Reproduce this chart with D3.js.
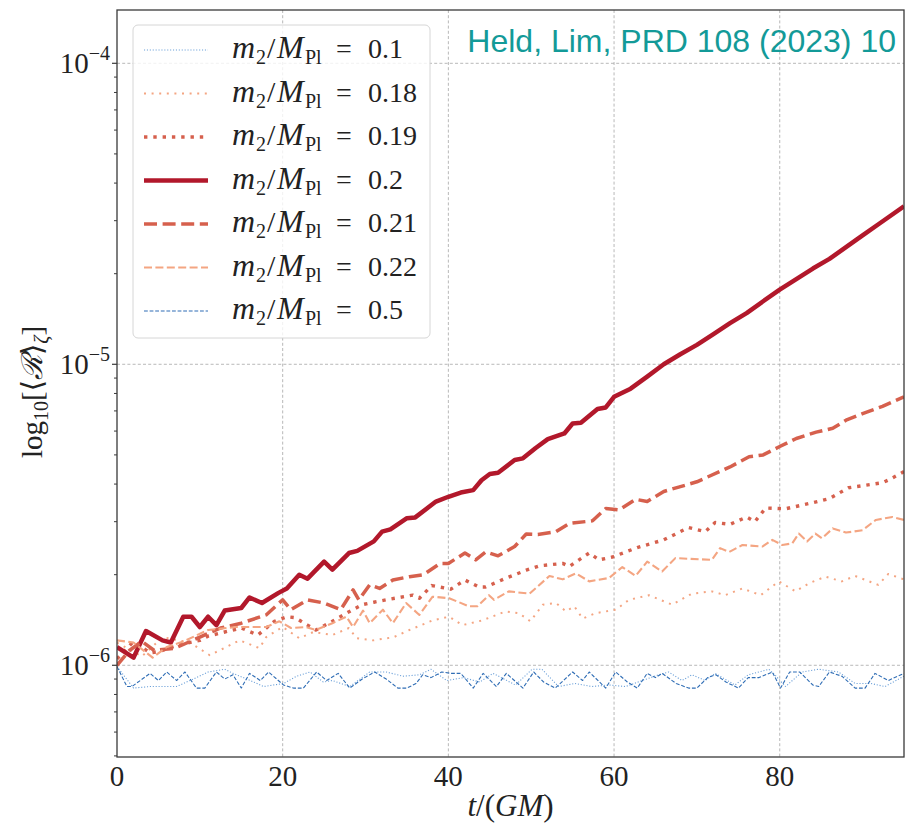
<!DOCTYPE html>
<html>
<head>
<meta charset="utf-8">
<script src="https://cdn.jsdelivr.net/npm/d3@7"></script>
<style>
  body { margin: 0; background: #fff; }
  svg { display: block; }
</style>
</head>
<body>
<div id="chart"></div>
<script>
// values are <R>_zeta in units of 1e-6
const t010 = [0, 2, 4, 7.2, 9.2, 11, 13, 14, 16.1, 17.7, 20.1, 21.7, 23.3, 24.9, 26, 28.1, 30.5, 32.5, 34.5, 36.5, 37.9, 39.8, 41.8, 43.8, 45.4, 47.4, 48.1, 50.1, 51.3, 53.3, 55.3, 57.3, 59.4, 61.4, 63.4, 65.4, 66.6, 68.2, 69.4, 71, 72.2, 74.6, 76.2, 78.7, 79.4, 80.7, 82.7, 84.7, 87.1, 89.1, 91, 92.7, 95];
const v010 = [0.99, 0.84, 0.85, 0.85, 0.90, 0.95, 0.97, 0.94, 0.89, 0.85, 0.87, 0.92, 0.95, 0.88, 0.89, 0.85, 0.95, 0.95, 0.92, 0.93, 0.97, 0.89, 0.91, 0.88, 0.94, 0.88, 0.86, 0.97, 0.97, 0.85, 0.87, 0.85, 0.86, 0.85, 0.89, 0.93, 0.95, 0.89, 0.93, 0.89, 0.94, 0.86, 0.93, 0.97, 0.93, 0.85, 0.95, 0.97, 0.95, 0.87, 0.87, 0.85, 0.92];

const t018 = [0, 3, 5.5, 8.8, 11.2, 14.8, 17.2, 18, 20, 22, 23.7, 26, 28, 28.9, 30.9, 33.4, 35.3, 38.1, 40.1, 41.7, 44.1, 46.9, 48.5, 49.9, 51.4, 53, 54.2, 55.2, 56.2, 57.8, 60.2, 61.8, 64.2, 67, 69.4, 71.8, 73.4, 75.5, 77.7, 79.9, 81.9, 83.5, 85.5, 87.5, 89.1, 91.9, 93.1, 95];
const v018 = [1.19, 1.07, 1.24, 1.19, 1.08, 1.21, 1.14, 1.24, 1.34, 1.23, 1.29, 1.26, 1.33, 1.23, 1.21, 1.24, 1.31, 1.41, 1.45, 1.36, 1.41, 1.51, 1.49, 1.40, 1.59, 1.61, 1.51, 1.57, 1.43, 1.49, 1.53, 1.65, 1.71, 1.59, 1.73, 1.76, 1.71, 1.80, 1.71, 1.90, 1.76, 1.87, 1.97, 1.90, 1.98, 1.85, 2.01, 1.93];

const t019 = [0, 2, 4, 5, 7.5, 10, 11, 13, 15, 17, 19, 20.5, 21.5, 23, 24, 26, 27.7, 29.6, 31, 33, 35.7, 36.5, 38, 40.3, 42, 43.7, 44.5, 47, 49.4, 51, 53.8, 54.6, 57, 58.2, 59.8, 62.8, 66, 69, 71, 72.2, 74, 76, 77, 78.3, 80.7, 84, 86, 88.3, 92.4, 93.3, 95];
const v019 = [1.05, 1.20, 1.10, 1.11, 1.17, 1.21, 1.25, 1.29, 1.33, 1.26, 1.40, 1.45, 1.44, 1.36, 1.31, 1.40, 1.49, 1.59, 1.62, 1.66, 1.71, 1.67, 1.84, 1.79, 1.92, 1.82, 1.82, 1.95, 2.07, 2.14, 2.18, 2.13, 2.36, 2.24, 2.29, 2.46, 2.61, 2.87, 2.78, 2.98, 2.94, 3.11, 3.00, 3.33, 3.31, 3.47, 3.58, 3.89, 4.04, 4.15, 4.40];

const t020 = [0, 2, 3.5, 5.5, 6.5, 8, 9, 10, 11, 12, 13, 15, 16, 17.5, 19.5, 20.5, 22, 23, 25, 26, 28, 29, 31, 32, 33, 35, 36, 38.5, 40, 41.5, 43, 44, 45, 46, 48, 49, 50.5, 52, 54, 55, 56, 58, 59, 60, 62, 64, 66, 68, 70, 72, 74, 76, 78, 80, 82, 84, 86, 88, 90, 92, 95];
const v020 = [1.15, 1.06, 1.30, 1.21, 1.19, 1.45, 1.45, 1.34, 1.45, 1.36, 1.52, 1.55, 1.68, 1.61, 1.74, 1.80, 2.00, 1.94, 2.21, 2.08, 2.36, 2.40, 2.58, 2.78, 2.83, 3.08, 3.10, 3.50, 3.63, 3.75, 3.82, 4.12, 4.32, 4.36, 4.81, 4.87, 5.26, 5.64, 5.89, 6.36, 6.39, 7.10, 7.19, 7.80, 8.30, 9.10, 10.0, 10.8, 11.6, 12.6, 13.7, 14.8, 16.2, 17.7, 19.2, 20.8, 22.4, 24.5, 26.8, 29.3, 33.5];

const t021 = [0, 1.5, 3, 4.5, 7, 10, 12.5, 15, 18, 20, 21, 23, 25, 27, 28.5, 29.2, 30.5, 31.7, 33.3, 35.3, 37, 39, 40, 42, 43.3, 44.5, 46, 48, 49.4, 50.8, 53, 54.6, 57.4, 59, 60.6, 62.6, 64, 66, 70, 74, 76.3, 78, 80, 82, 84.4, 86.4, 88, 90, 92.4, 95];
const v021 = [1.00, 1.12, 1.20, 1.12, 1.14, 1.24, 1.33, 1.38, 1.47, 1.65, 1.53, 1.65, 1.61, 1.53, 1.78, 1.65, 1.85, 1.80, 1.92, 1.97, 2.00, 2.18, 2.18, 2.36, 2.24, 2.38, 2.31, 2.48, 2.73, 2.72, 2.78, 2.96, 3.02, 3.32, 3.28, 3.56, 3.50, 3.78, 4.07, 4.56, 4.93, 5.00, 5.33, 5.67, 5.95, 6.13, 6.52, 6.86, 7.25, 7.80];

const t022 = [0, 2, 4.3, 6, 8, 11, 14.4, 18, 19.6, 21, 22.8, 24, 26, 27.7, 28.5, 29.7, 30.5, 32.1, 33.3, 34.9, 36.5, 38.1, 40.1, 42.5, 43.5, 44.9, 45.5, 47.3, 49.8, 52.2, 53.8, 55.4, 57, 59.4, 61, 62.6, 64, 65.8, 67.4, 71.8, 72.8, 73.9, 75.5, 77.9, 79.1, 80.3, 81.5, 82.3, 83.3, 84.3, 85.1, 86.4, 88, 90, 91.6, 93.6, 95];
const v022 = [1.21, 1.19, 1.06, 1.15, 1.20, 1.31, 1.34, 1.34, 1.40, 1.33, 1.34, 1.31, 1.38, 1.45, 1.34, 1.52, 1.38, 1.53, 1.38, 1.61, 1.47, 1.69, 1.67, 1.57, 1.57, 1.71, 1.65, 1.76, 1.73, 1.98, 1.93, 2.02, 1.90, 1.95, 2.12, 1.98, 2.21, 2.05, 2.27, 2.24, 2.45, 2.38, 2.51, 2.48, 2.61, 2.51, 2.54, 2.74, 2.58, 2.74, 2.64, 2.85, 2.76, 2.81, 3.04, 3.11, 3.04];

const t050 = [0, 1.2, 1.8, 4, 5, 6, 7.2, 8.2, 9.6, 10.6, 12, 13, 14, 15, 16, 17.3, 18.3, 20.1, 21.3, 22.5, 24.1, 25.3, 26.7, 28.1, 29.6, 31.1, 32.5, 33.9, 35, 36.1, 36.9, 37.9, 39.2, 40.3, 41.5, 43, 44.2, 45.8, 47, 49, 50.3, 51.5, 52.9, 55, 56.2, 57, 59, 60.2, 61.6, 62.8, 64, 65, 65.8, 67.5, 69, 70, 71.3, 72.3, 73.5, 75, 76.2, 77.5, 79.1, 80.1, 81.2, 82.4, 84, 84.7, 86, 87.5, 89.1, 90.3, 91.5, 93.1, 95];
const v050 = [0.99, 0.85, 0.85, 0.94, 0.89, 0.95, 0.89, 0.95, 0.84, 0.84, 0.95, 0.90, 0.93, 0.84, 0.94, 0.89, 0.95, 0.86, 0.84, 0.84, 0.95, 0.89, 0.94, 0.84, 0.90, 0.95, 0.90, 0.84, 0.84, 0.87, 0.93, 0.91, 0.95, 0.94, 0.94, 0.84, 0.94, 0.85, 0.94, 0.84, 0.95, 0.88, 0.84, 0.95, 0.89, 0.95, 0.84, 0.95, 0.88, 0.84, 0.94, 0.91, 0.94, 0.87, 0.84, 0.84, 0.91, 0.93, 0.88, 0.84, 0.91, 0.91, 0.95, 0.84, 0.95, 0.95, 0.86, 0.85, 0.95, 0.92, 0.84, 0.84, 0.94, 0.89, 0.94];

const masses = ["0.1", "0.18", "0.19", "0.2", "0.21", "0.22", "0.5"];
const times = [t010, t018, t019, t020, t021, t022, t050];
const values = [v010, v018, v019, v020, v021, v022, v050];

const xTicks = [0, 20, 40, 60, 80];
const yTicks = [-6, -5, -4];

// line styles per series
const styles = [
    { color: "#6a9fd8", width: 1.1, dash: "1.1,1.8" },
    { color: "#f4a582", width: 2, dash: "2,5.6" },
    { color: "#d6604d", width: 3.4, dash: "3.4,5.9" },
    { color: "#b2182b", width: 4.5, dash: null },
    { color: "#d6604d", width: 3.5, dash: "13,5.6" },
    { color: "#f4a582", width: 2.1, dash: "8,3.4" },
    { color: "#2f6db5", width: 1.1, dash: "3.8,1.8" }
];

const W = 905, H = 823;
const plotL = 117, plotR = 904, plotT = 10, plotB = 757;

const svg = d3.select("#chart").append("svg")
    .attr("width", W)
    .attr("height", H)
    .style("font-family", "'Liberation Serif', 'DejaVu Serif', serif");

const x = d3.scaleLinear().domain([0, 95]).range([plotL, plotR]);
const y = d3.scaleLog()
    .domain([Math.pow(10, -6.3047), Math.pow(10, -3.8229)])
    .range([plotB, plotT]);

// grid
const grid = svg.append("g")
    .attr("stroke", "#b0b0b0")
    .attr("stroke-width", 0.9)
    .attr("stroke-dasharray", "3,2.2");
grid.selectAll(".gx").data(xTicks.slice(1)).join("line")
    .attr("x1", d => x(d)).attr("x2", d => x(d))
    .attr("y1", plotT).attr("y2", plotB);
grid.selectAll(".gy").data(yTicks).join("line")
    .attr("x1", plotL).attr("x2", plotR)
    .attr("y1", d => y(Math.pow(10, d))).attr("y2", d => y(Math.pow(10, d)));

// clip
svg.append("clipPath").attr("id", "plotclip")
    .append("rect")
    .attr("x", plotL).attr("y", plotT)
    .attr("width", plotR - plotL).attr("height", plotB - plotT);

const line = d3.line()
    .x(d => x(d[0]))
    .y(d => y(d[1] * 1e-6));

const lines = svg.append("g").attr("clip-path", "url(#plotclip)");
masses.forEach((m, i) => {
    const pts = times[i].map((t, j) => [t, values[i][j]]);
    const s = styles[i];
    lines.append("path")
        .datum(pts)
        .attr("fill", "none")
        .attr("stroke", s.color)
        .attr("stroke-width", s.width)
        .attr("stroke-linejoin", "round")
        .attr("stroke-dasharray", s.dash)
        .attr("d", line);
});

// frame
svg.append("rect")
    .attr("x", plotL).attr("y", plotT)
    .attr("width", plotR - plotL).attr("height", plotB - plotT)
    .attr("fill", "none")
    .attr("stroke", "#3a3a3a")
    .attr("stroke-width", 1.3);

// y ticks (major + minor)
const minor = [];
for (let e = -7; e <= -4; e++) {
    for (let k = 2; k <= 9; k++) {
        const v = k * Math.pow(10, e);
        if (v > y.domain()[0] && v < y.domain()[1]) minor.push(v);
    }
}
svg.append("g").selectAll("line").data(minor).join("line")
    .attr("x1", plotL - 3).attr("x2", plotL)
    .attr("y1", d => y(d)).attr("y2", d => y(d))
    .attr("stroke", "#3a3a3a").attr("stroke-width", 1);
svg.append("g").selectAll("line").data(yTicks).join("line")
    .attr("x1", plotL - 5).attr("x2", plotL)
    .attr("y1", d => y(Math.pow(10, d))).attr("y2", d => y(Math.pow(10, d)))
    .attr("stroke", "#3a3a3a").attr("stroke-width", 1.2);

// y tick labels
yTicks.forEach(e => {
    const t = svg.append("text")
        .attr("x", plotL - 7)
        .attr("y", y(Math.pow(10, e)) + 10)
        .attr("text-anchor", "end")
        .attr("font-size", 29)
        .attr("fill", "#222");
    t.append("tspan").text("10");
    t.append("tspan").attr("font-size", 20).attr("dy", -13).text("\u2212" + (-e));
});

// x tick labels
svg.append("g").selectAll("text").data(xTicks).join("text")
    .attr("x", d => x(d))
    .attr("y", 786)
    .attr("text-anchor", "middle")
    .attr("font-size", 29)
    .attr("fill", "#222")
    .text(d => d);

// x label
const xl = svg.append("text")
    .attr("x", (plotL + plotR) / 2)
    .attr("y", 816)
    .attr("text-anchor", "middle")
    .attr("font-size", 31)
    .attr("fill", "#222");
xl.append("tspan").attr("font-style", "italic").text("t");
xl.append("tspan").text("/(");
xl.append("tspan").attr("font-style", "italic").text("GM");
xl.append("tspan").text(")");

// y label
const yl = svg.append("text")
    .attr("transform", "translate(42," + 392 + ") rotate(-90)")
    .attr("text-anchor", "middle")
    .attr("font-size", 29)
    .attr("fill", "#222");
yl.append("tspan").text("log");
yl.append("tspan").attr("font-size", 20).attr("dy", 6).text("10");
yl.append("tspan").attr("dy", -6).text("[\u27E8");
yl.append("tspan").attr("font-style", "italic").text("\u211B");
yl.append("tspan").text("\u27E9");
yl.append("tspan").attr("font-size", 20).attr("font-style", "italic").attr("dy", 6).text("\u03B6");
yl.append("tspan").attr("dy", -6).text("]");

// legend
const legend = svg.append("g");
legend.append("rect")
    .attr("x", 133).attr("y", 25)
    .attr("width", 297).attr("height", 313)
    .attr("rx", 5)
    .attr("fill", "#fff").attr("fill-opacity", 0.8)
    .attr("stroke", "#d6d6d6").attr("stroke-width", 1);

const rowY = d3.scaleLinear().domain([0, 6]).range([50, 311]);
masses.forEach((m, i) => {
    const s = styles[i];
    const yy = rowY(i);
    legend.append("line")
        .attr("x1", 144).attr("x2", 208)
        .attr("y1", yy).attr("y2", yy)
        .attr("stroke", s.color)
        .attr("stroke-width", s.width)
        .attr("stroke-dasharray", s.dash);
    const t = legend.append("text")
        .attr("y", yy + 8)
        .attr("font-size", 28)
        .attr("fill", "#222");
    t.append("tspan").attr("x", 232).attr("font-style", "italic").attr("font-size", 32).text("m");
    t.append("tspan").attr("x", 256).attr("font-size", 20).attr("dy", 6).text("2");
    t.append("tspan").attr("x", 267).attr("dy", -6).attr("font-size", 30).text("/");
    t.append("tspan").attr("x", 277).attr("font-style", "italic").attr("font-size", 32).text("M");
    t.append("tspan").attr("x", 305).attr("font-size", 20).attr("dy", 6).text("Pl");
    t.append("tspan").attr("x", 336).attr("dy", -6).text("=");
    t.append("tspan").attr("x", 368).text(m);
});

// citation
svg.append("text")
    .attr("x", 896).attr("y", 52)
    .attr("text-anchor", "end")
    .attr("font-family", "'Liberation Sans', Arial, sans-serif")
    .attr("font-size", 32)
    .attr("fill", "#139a98")
    .text("Held, Lim, PRD 108 (2023) 10");
</script>
</body>
</html>
